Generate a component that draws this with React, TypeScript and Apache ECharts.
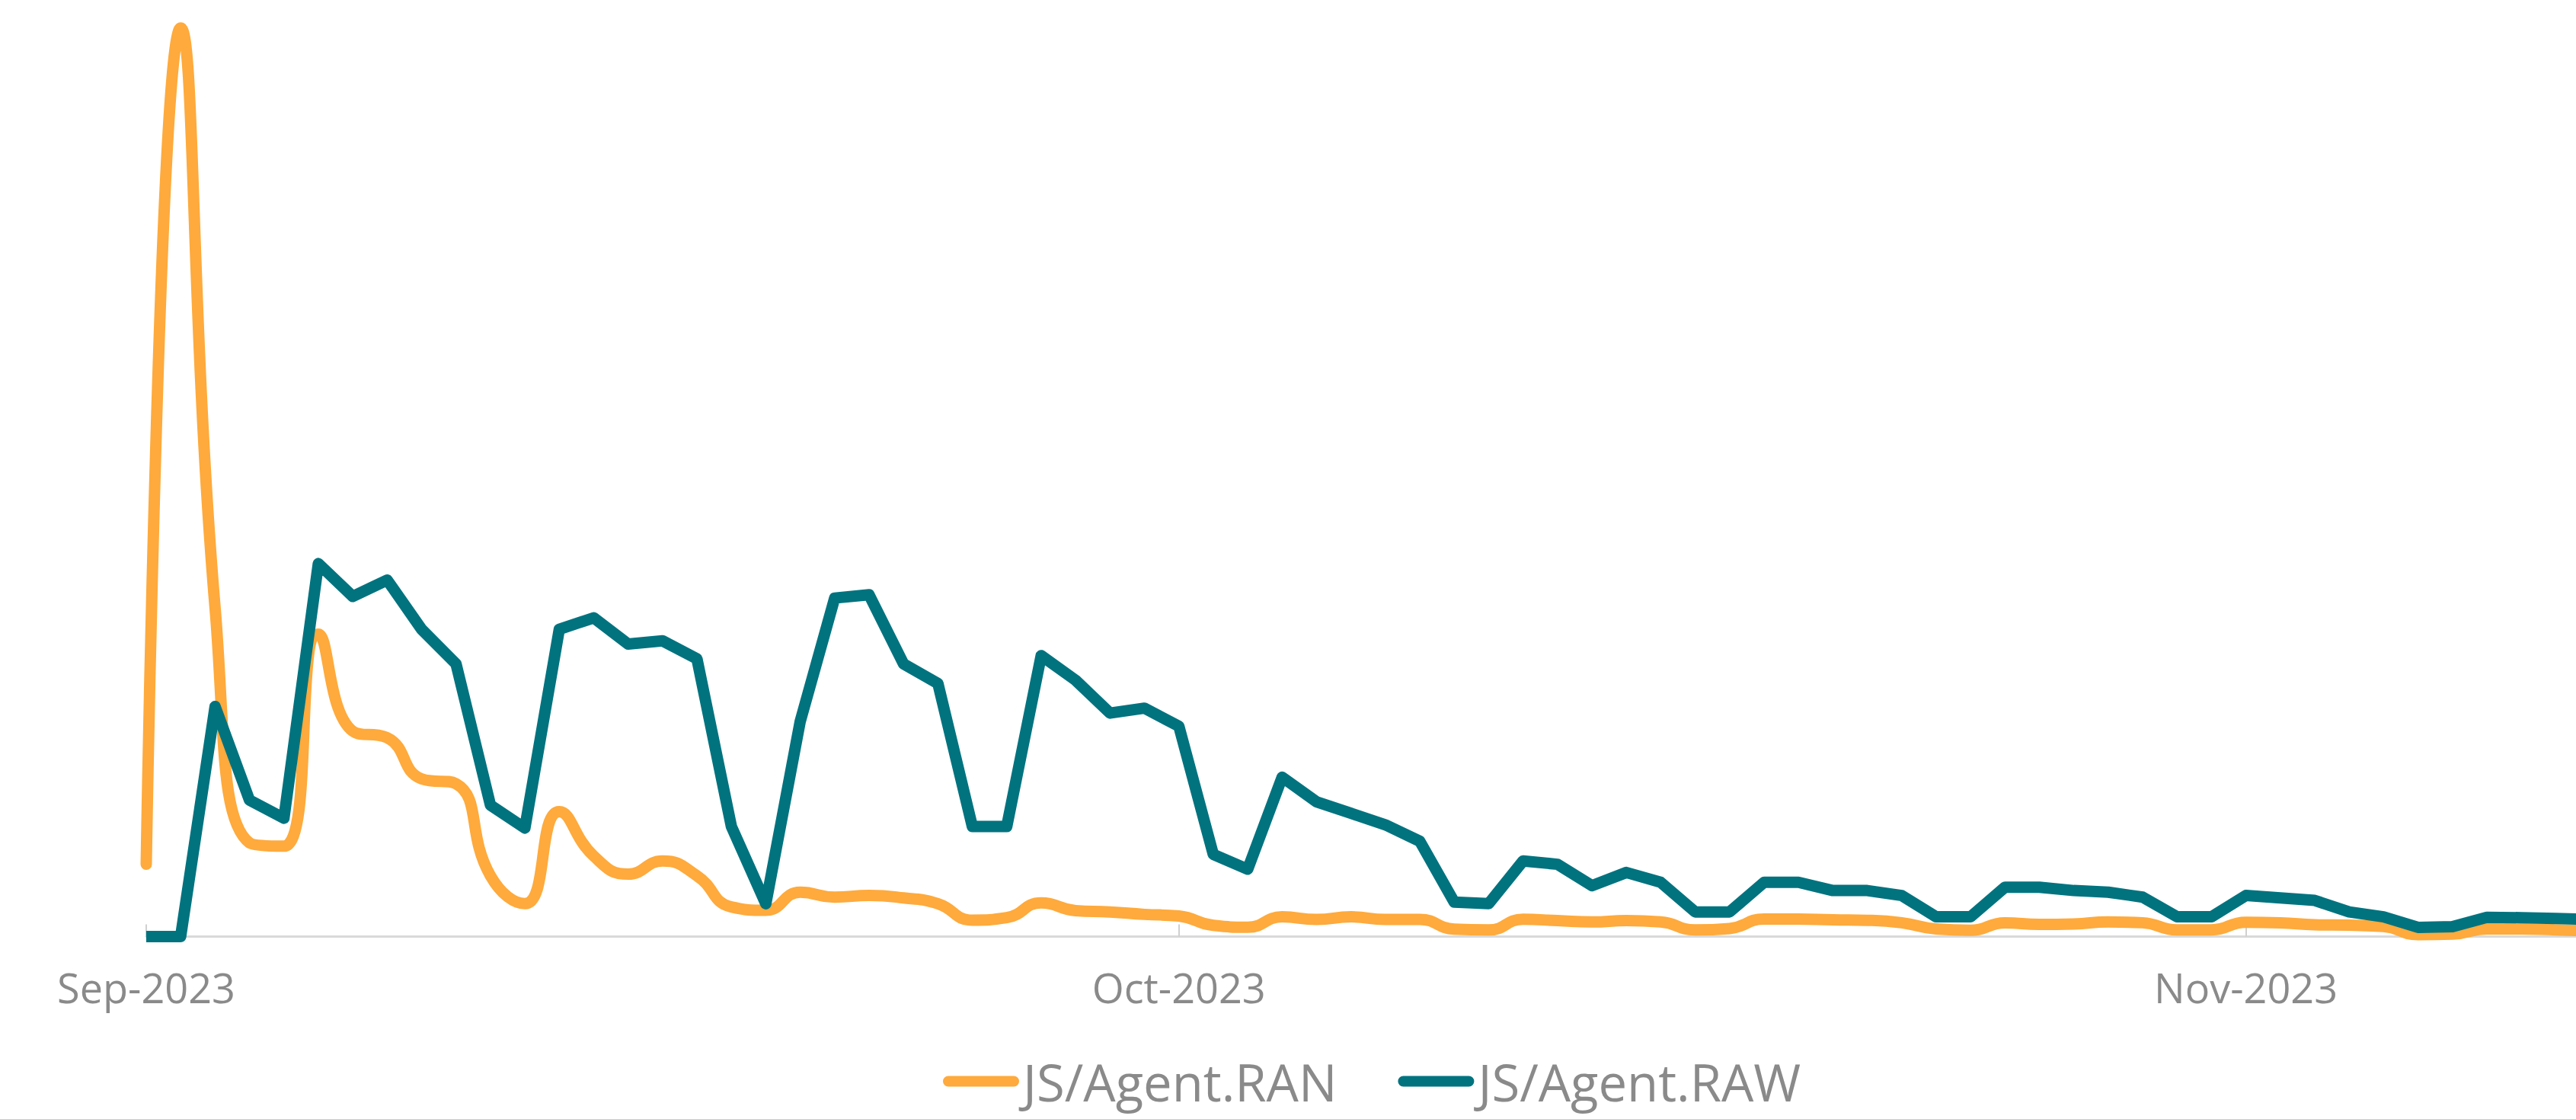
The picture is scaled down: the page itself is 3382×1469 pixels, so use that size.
import React, { useEffect, useRef } from "react";
import * as echarts from "echarts";

const DATES = [
  "2023-09-01","2023-09-02","2023-09-03","2023-09-04","2023-09-05","2023-09-06","2023-09-07","2023-09-08","2023-09-09","2023-09-10",
  "2023-09-11","2023-09-12","2023-09-13","2023-09-14","2023-09-15","2023-09-16","2023-09-17","2023-09-18","2023-09-19","2023-09-20",
  "2023-09-21","2023-09-22","2023-09-23","2023-09-24","2023-09-25","2023-09-26","2023-09-27","2023-09-28","2023-09-29","2023-09-30",
  "2023-10-01","2023-10-02","2023-10-03","2023-10-04","2023-10-05","2023-10-06","2023-10-07","2023-10-08","2023-10-09","2023-10-10",
  "2023-10-11","2023-10-12","2023-10-13","2023-10-14","2023-10-15","2023-10-16","2023-10-17","2023-10-18","2023-10-19","2023-10-20",
  "2023-10-21","2023-10-22","2023-10-23","2023-10-24","2023-10-25","2023-10-26","2023-10-27","2023-10-28","2023-10-29","2023-10-30",
  "2023-10-31","2023-11-01","2023-11-02","2023-11-03","2023-11-04","2023-11-05","2023-11-06","2023-11-07","2023-11-08","2023-11-09",
  "2023-11-10","2023-11-11"
];

const RAN = [
  44, 553, 200, 57, 55, 184, 125, 121, 96, 93, 37, 20, 76, 49, 38, 46, 37, 18, 16, 27, 24, 25, 23.5, 20, 10, 11.5, 20.5, 15.8, 15, 13.5,
  12.5, 6.8, 5.7, 12, 10.4, 12, 10.4, 10.4, 4.5, 4, 10.5, 9.7, 8.9, 9.7, 8.9, 4, 4.9, 10.7, 10.7, 10.2, 9.9, 8.4, 4.6, 3.8, 8.4, 7.4, 7.7, 8.9, 8.4, 4.1, 4.1,
  8.7, 8.4, 7.2, 6.9, 6.1, 1.2, 1.5, 4.6, 4.6, 4.1, 3.5
];

const RAW = [
  0, 0, 140, 83, 72, 227, 207, 217, 187, 166, 80, 66, 187, 194, 178, 180, 169, 67, 20, 131, 206, 208, 166, 154, 67, 67, 171, 156, 136, 139,
  128, 50, 41, 97, 82, 75, 68, 58, 21, 20, 46, 44, 31, 39, 33, 15, 15, 33, 33, 28, 28, 25, 12, 12, 30, 30, 28, 27, 24, 12, 12,
  25, 23.5, 22, 15, 12, 5.6, 6, 11.7, 11.5, 11, 10.5
];

const SERIES_NAMES = ["JS/Agent.RAN", "JS/Agent.RAW"];
const MONTHS = ["Jan","Feb","Mar","Apr","May","Jun","Jul","Aug","Sep","Oct","Nov","Dec"];
const X_MIN = "2023-09-01T00:00:00Z";
const X_MAX = "2023-11-10T14:10:00Z";
const Y_MAX = 570;

const toMs = (s: string) => Date.parse(s + "T00:00:00Z");

export default function App() {
  const ref = useRef<HTMLDivElement>(null);
  useEffect(() => {
    if (!ref.current) return;
    const chart = echarts.init(ref.current, null, { renderer: "svg" });
    const font = "'Open Sans', 'Noto Sans', sans-serif";
    const legendIcon = "path://M7 0H93A7 7 0 0 1 93 14H7A7 7 0 0 1 7 0Z";
    const ORANGE = "#FEAA3C";
    const TEAL = "#00737F";
    chart.setOption({
      animation: false,
      useUTC: true,
      backgroundColor: "#ffffff",
      grid: { left: 192, right: 0, top: 0, bottom: 239.5, containLabel: false },
      legend: {
        left: 1238,
        top: 1386,
        padding: 0,
        itemWidth: 100,
        itemHeight: 15,
        itemGap: 80,
        icon: legendIcon,
        textStyle: { fontFamily: font, fontSize: 67, color: "#8a8a8a", padding: [0, 0, 18, 0] },
        data: [
          { name: SERIES_NAMES[0], icon: legendIcon, itemStyle: { color: ORANGE } },
          { name: SERIES_NAMES[1], icon: legendIcon, itemStyle: { color: TEAL } },
        ],
      },
      xAxis: {
        type: "time",
        min: Date.parse(X_MIN),
        max: Date.parse(X_MAX),
        minInterval: 28 * 86400000,
        maxInterval: 31 * 86400000,
        axisLine: { show: true, lineStyle: { color: "#D9D9D9", width: 3 } },
        axisTick: { show: true, inside: true, length: 16, lineStyle: { color: "#D0D0D0", width: 2 } },
        splitLine: { show: false },
        axisLabel: {
          margin: 39,
          fontFamily: font,
          fontSize: 54,
          color: "#8a8a8a",
          formatter: (v: number) => {
            const d = new Date(v);
            return MONTHS[d.getUTCMonth()] + "-" + d.getUTCFullYear();
          },
        },
      },
      yAxis: {
        type: "value",
        min: 0,
        max: Y_MAX,
        show: false,
        splitLine: { show: false },
      },
      series: [
        {
          name: SERIES_NAMES[0],
          type: "line",
          smooth: 0.5,
          showSymbol: false,
          symbol: "none",
          lineStyle: { color: ORANGE, width: 15, join: "round", cap: "round" },
          itemStyle: { color: ORANGE },
          data: DATES.map((d, i) => [toMs(d), RAN[i]]),
        },
        {
          name: SERIES_NAMES[1],
          type: "line",
          showSymbol: false,
          symbol: "none",
          lineStyle: { color: TEAL, width: 15, join: "round", cap: "butt" },
          itemStyle: { color: TEAL },
          data: DATES.map((d, i) => [toMs(d), RAW[i]]),
        },
      ],
    });
    return () => chart.dispose();
  }, []);
  return (
    <div
      ref={ref}
      style={{ position: "fixed", left: 0, top: 0, width: 3382, height: 1469, background: "#fff" }}
    />
  );
}
